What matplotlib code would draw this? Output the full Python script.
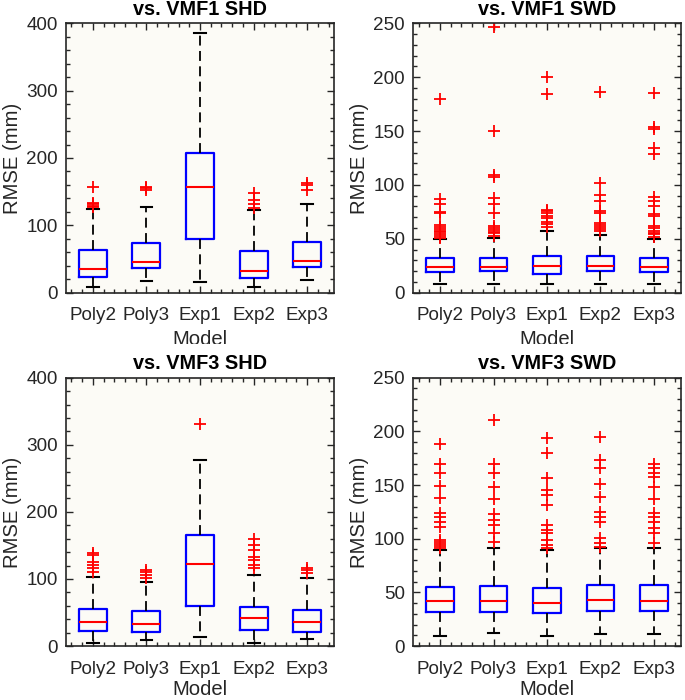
import matplotlib
matplotlib.use('Agg')
import matplotlib.pyplot as plt
from matplotlib.ticker import MultipleLocator
from matplotlib.transforms import Bbox, TransformedBbox

plt.rcParams['font.family'] = ['Liberation Sans', 'DejaVu Sans']

models = ['Poly2', 'Poly3', 'Exp1', 'Exp2', 'Exp3']

# vs. VMF1 SHD
shd1_low = [8.9, 17.3, 15.8, 8.9, 18.8]
shd1_q1 = [22.8, 36.0, 79.7, 21.3, 37.6]
shd1_med = [35.6, 45.5, 156.4, 32.7, 47.5]
shd1_q3 = [63.9, 74.3, 207.4, 62.4, 75.7]
shd1_high = [123.8, 127.7, 386.1, 123.3, 131.2]
shd1_out = [[127, 129, 131, 133, 157],
            [153, 155, 157],
            [],
            [125.2, 131.7, 137.6, 148.5],
            [152.5, 159.4, 162.9]]

# vs. VMF1 SWD
swd1_low = [8.4, 8.4, 8.4, 8.4, 8.4]
swd1_q1 = [19.5, 19.8, 17.3, 20.1, 19.5]
swd1_med = [23.8, 24.1, 24.8, 25.1, 24.1]
swd1_q3 = [31.9, 32.5, 33.7, 33.7, 32.5]
swd1_high = [49.5, 50.7, 57.5, 53.2, 50.1]
swd1_out = [[51, 53, 54, 56, 57, 59, 61, 63, 74, 75, 82, 87, 179.5],
            [53, 55, 56, 58, 60, 62, 73.6, 82, 87.6, 107, 109, 150.4, 246.3],
            [61, 64, 66, 69, 71, 74, 76, 77, 184.4, 199.9],
            [57, 59, 61, 63, 65, 74, 76, 85, 91, 102, 186],
            [52, 54, 55, 57, 60, 62, 71, 73, 80, 85, 89, 129, 134, 152, 154, 185.6]]

# vs. VMF3 SHD
shd3_low = [4.0, 9.4, 12.9, 4.5, 10.4]
shd3_q1 = [22.4, 20.4, 59.6, 24.3, 21.4]
shd3_med = [35.3, 33.3, 121.7, 42.2, 35.3]
shd3_q3 = [55.7, 52.2, 166.0, 58.6, 54.2]
shd3_high = [103.4, 95.4, 277.8, 105.8, 101.9]
shd3_out = [[110.8, 115.8, 120.7, 125.7, 135.7, 138.1],
            [100.9, 105.8, 110.8, 113.3],
            [331],
            [115.8, 120.7, 128.2, 133.2, 143.1, 150.6, 159],
            [108.3, 113.3, 115.8]]

# vs. VMF3 SWD
swd3_low = [9.0, 11.8, 9.0, 10.9, 11.5]
swd3_q1 = [31.7, 32.0, 31.1, 32.6, 32.6]
swd3_med = [41.9, 41.9, 40.4, 42.9, 42.2]
swd3_q3 = [55.0, 56.2, 54.3, 56.5, 56.5]
swd3_high = [89.8, 91.6, 89.8, 91.6, 91.6]
swd3_out = [[91, 93, 95, 97, 99, 111, 116, 120, 124, 137.6, 149, 161.5, 170, 188],
            [97.2, 105.6, 112.7, 117.4, 123, 136.6, 148.4, 161.5, 169.6, 210.6],
            [91, 94.1, 98.8, 105, 108, 112.7, 131.4, 140.7, 145.3, 156.8, 180.1, 193.5],
            [92.5, 95.7, 100.3, 115.8, 120.5, 125.2, 138.5, 150.9, 165.5, 173.3, 194.4],
            [96.3, 105, 109.6, 115.8, 120.5, 123.6, 136.6, 148.4, 157.8, 161.5, 165.5, 169.6]]

titles = ['vs. VMF1 SHD', 'vs. VMF1 SWD', 'vs. VMF3 SHD', 'vs. VMF3 SWD']
panels = [(shd1_low, shd1_q1, shd1_med, shd1_q3, shd1_high, shd1_out),
          (swd1_low, swd1_q1, swd1_med, swd1_q3, swd1_high, swd1_out),
          (shd3_low, shd3_q1, shd3_med, shd3_q3, shd3_high, shd3_out),
          (swd3_low, swd3_q1, swd3_med, swd3_q3, swd3_high, swd3_out)]
ylims = [400, 250, 400, 250]
ymajor = [100, 50, 100, 50]
yminor = [20, 10, 20, 10]

# axes rectangles [left, bottom, width, height] in figure fraction
rects = [[0.0964, 0.5819, 0.3912, 0.3848],
         [0.6034, 0.5819, 0.3903, 0.3848],
         [0.0964, 0.0771, 0.3912, 0.3833],
         [0.6034, 0.0771, 0.3903, 0.3833]]

fig = plt.figure(figsize=(6.85, 7.0), dpi=100)
edge = '#262626'

for i in range(4):
    ax = fig.add_axes(rects[i])
    ax.set_facecolor('#fcfbf6')
    low, q1, med, q3, high, out = panels[i]
    stats = []
    for k in range(5):
        stats.append({'whislo': low[k], 'q1': q1[k], 'med': med[k],
                      'q3': q3[k], 'whishi': high[k], 'fliers': out[k],
                      'label': models[k]})
    ax.bxp(stats, widths=0.52, capwidths=0.22, showfliers=True,
           boxprops=dict(color='blue', lw=1.6),
           medianprops=dict(color='red', lw=1.5),
           whiskerprops=dict(color='black', lw=1.3, linestyle=(0, (5.5, 3))),
           capprops=dict(color='black', lw=1.5),
           flierprops=dict(marker='+', markeredgecolor='red', markersize=9,
                           markeredgewidth=1.3, linestyle='none'))
    ax.set_xlim(0.5, 5.5)
    ax.set_ylim(0, ylims[i])
    ax.yaxis.set_major_locator(MultipleLocator(ymajor[i]))
    ax.yaxis.set_minor_locator(MultipleLocator(yminor[i]))
    ax.xaxis.set_minor_locator(MultipleLocator(0.2))
    ax.tick_params(which='both', direction='in', top=True, right=True,
                   colors=edge, labelcolor='#262626', labelsize=13.6, width=1.0)
    ax.tick_params(which='major', length=5)
    ax.tick_params(which='minor', length=3)
    ax.tick_params(axis='x', which='major', pad=10.5)
    ax.tick_params(axis='y', which='major', pad=6)
    for s in ax.spines.values():
        s.set_color(edge)
        s.set_linewidth(1.2)
    ax.set_title(titles[i], fontsize=14.3, fontweight='bold', pad=6)
    ax.set_ylabel('RMSE (mm)', fontsize=14.6, color='#262626', labelpad=3)
    if i < 2:
        lab = ax.set_xlabel('Model', fontsize=14.6, color='#262626', labelpad=4)
        # lower part of the upper "Model" labels is hidden in the original
        lab.set_clip_box(TransformedBbox(Bbox([[0, 0.508], [1, 1]]), fig.transFigure))
        lab.set_clip_on(True)
    else:
        ax.set_xlabel('Model', fontsize=14.6, color='#262626', labelpad=2)

plt.savefig('out.png', dpi=100)
